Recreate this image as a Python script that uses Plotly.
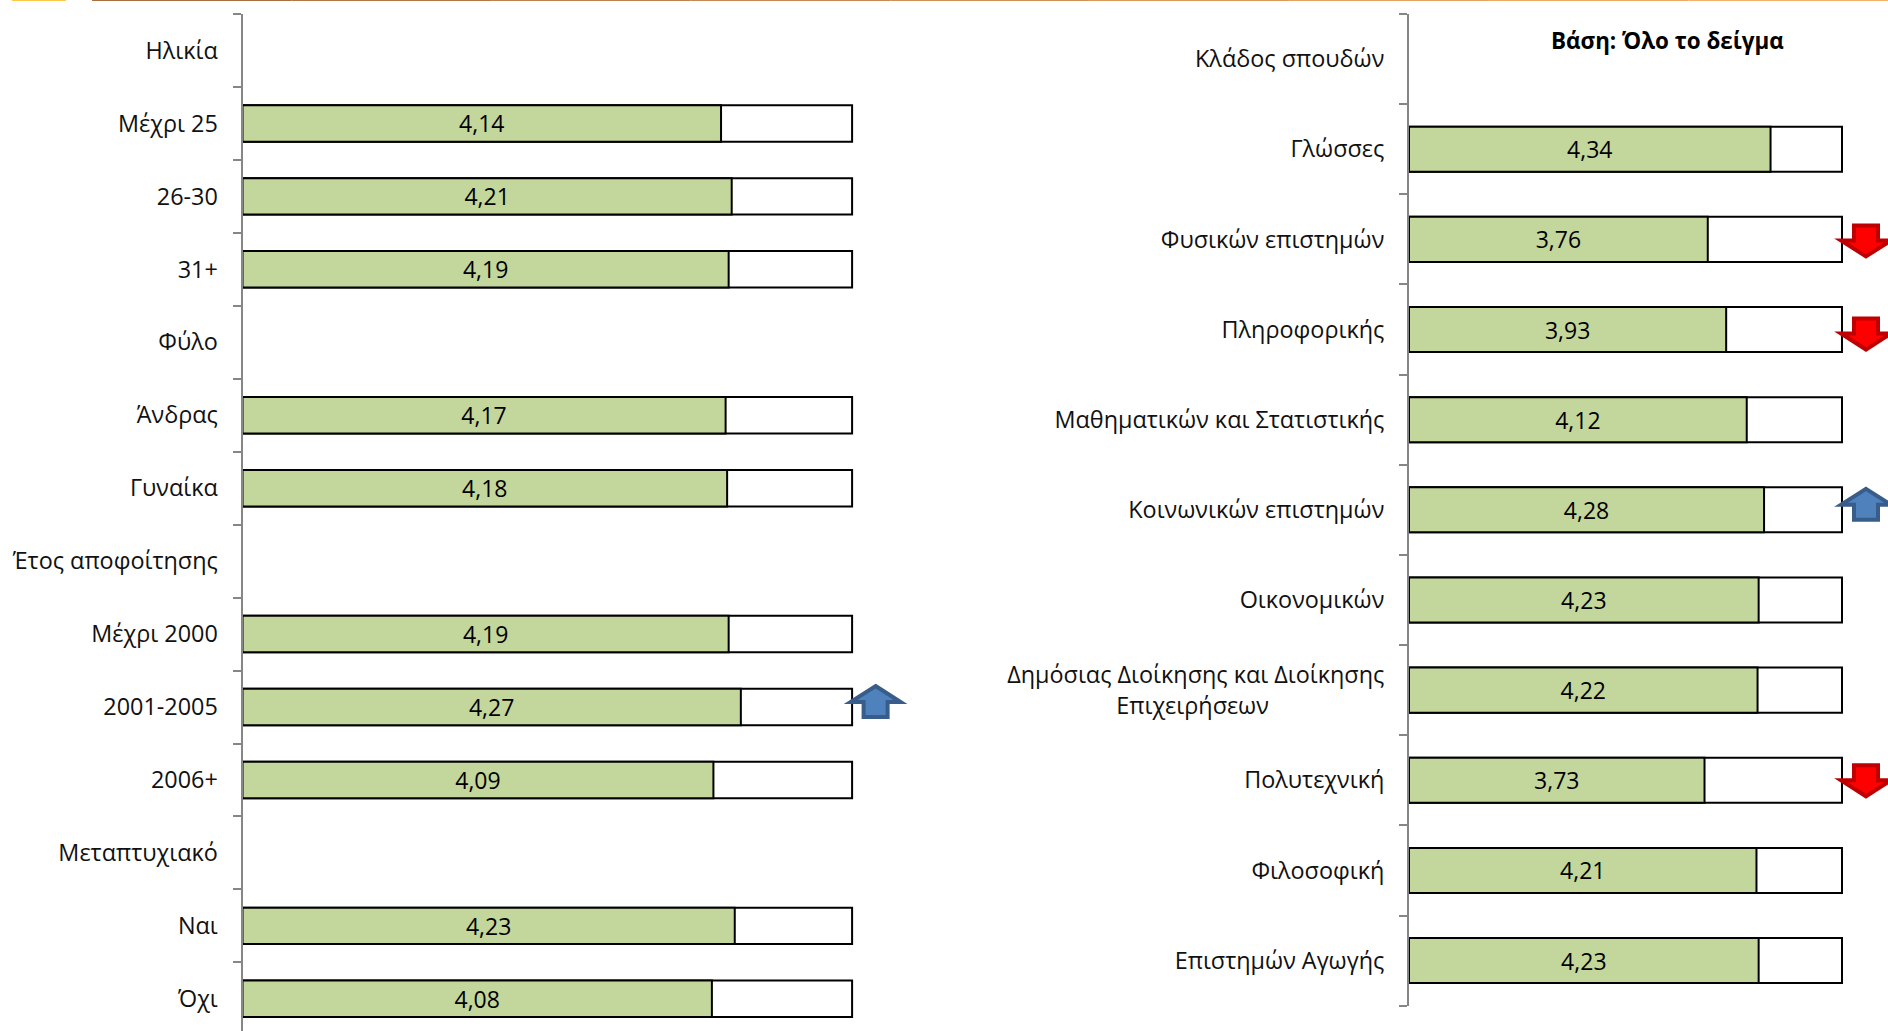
import plotly.graph_objects as go

# ---- data ----
left_labels = ["Ηλικία", "Μέχρι 25", "26-30", "31+", "Φύλο", "Άνδρας", "Γυναίκα",
               "Έτος αποφοίτησης", "Μέχρι 2000", "2001-2005", "2006+",
               "Μεταπτυχιακό", "Ναι", "Όχι"]
left_values = [None, 4.14, 4.21, 4.19, None, 4.17, 4.18,
               None, 4.19, 4.27, 4.09, None, 4.23, 4.08]
left_flags = [None, None, None, None, None, None, None,
              None, None, "up", None, None, None, None]

right_labels = ["Κλάδος σπουδών", "Γλώσσες", "Φυσικών επιστημών", "Πληροφορικής",
                "Μαθηματικών και Στατιστικής", "Κοινωνικών επιστημών", "Οικονομικών",
                "Δημόσιας Διοίκησης και Διοίκησης<br>Επιχειρήσεων", "Πολυτεχνική",
                "Φιλοσοφική", "Επιστημών Αγωγής"]
right_values = [None, 4.34, 3.76, 3.93, 4.12, 4.28, 4.23, 4.22, 3.73, 4.21, 4.23]
right_flags = [None, None, "down", "down", None, "up", None, None, "down", None, None]

scale_min, scale_max = 1, 5
base_note = "Βάση: Όλο το δείγμα"

# ---- style ----
W, H = 1888, 1031
FONT = "Open Sans"
GREEN, BLACK, AXIS = "#C3D69B", "#000000", "#868686"
LABEL_SIZE, VALUE_SIZE, NOTE_SIZE = 23.4, 23, 22.4
STYLE = {"up": ("#4F81BD", "#385D8A"), "down": ("#FF0000", "#C00000")}


def add_panel(fig, n, labels, values, x0, x_end, unit, row_top, row_h):
    ax = "" if n == 1 else str(n)
    top_value = scale_min + (x_end - x0) / unit
    has_bar = [v is not None for v in values]
    fig.add_trace(go.Bar(y=labels, x=[scale_max - scale_min if b else None for b in has_bar],
                         base=scale_min, orientation="h", width=0.5,
                         marker=dict(color="white", line=dict(color=BLACK, width=2)),
                         xaxis="x" + ax, yaxis="y" + ax, hoverinfo="skip"))
    fig.add_trace(go.Bar(y=labels, x=[None if v is None else v - scale_min for v in values],
                         base=scale_min, orientation="h", width=0.5,
                         marker=dict(color=GREEN, line=dict(color=BLACK, width=2)),
                         text=[None if v is None else f"{v:.2f}".replace(".", ",") for v in values],
                         textposition="inside", insidetextanchor="middle",
                         textangle=0, constraintext="none",
                         textfont=dict(family=FONT, size=VALUE_SIZE, color=BLACK),
                         xaxis="x" + ax, yaxis="y" + ax))
    bottom = min(H, row_top + row_h * len(labels))
    visible_rows = (bottom - row_top) / row_h
    fig.update_layout({
        "xaxis" + ax: dict(domain=[x0 / W, x_end / W], range=[scale_min, top_value],
                           visible=False, anchor="y" + ax),
        "yaxis" + ax: dict(domain=[1 - bottom / H, 1 - row_top / H],
                           range=[visible_rows - 0.5, -0.5], type="category",
                           categoryorder="array", categoryarray=labels,
                           tickmode="array", tickvals=labels,
                           ticktext=[l + "\u00a0" * 19 if "<br>" in l else l for l in labels],
                           tickson="boundaries", ticks="outside", ticklen=8, tickwidth=1.5,
                           tickcolor=AXIS, showline=True, linecolor=AXIS, linewidth=2,
                           showgrid=False, zeroline=False, anchor="x" + ax,
                           ticklabelstandoff=18,
                           tickfont=dict(family=FONT, size=LABEL_SIZE, color="#111111")),
    })


def arrow_path(kind, dx, dy):
    # pixel offsets around the anchor (centre line of the outline); screen y is flipped
    hw, sw = 25, 12
    if kind == "up":
        pts = [(0, -21), (hw, -5), (sw, -5), (sw, 10), (-sw, 10), (-sw, -5), (-hw, -5)]
    else:
        pts = [(0, 17), (hw, 1), (sw, 1), (sw, -14), (-sw, -14), (-sw, 1), (-hw, 1)]
    return "M " + " L ".join(f"{x + dx},{-(y + dy)}" for x, y in pts) + " Z"


def add_arrows(fig, n, flags, dx, row_nudge):
    ax = "" if n == 1 else str(n)
    for i, flag in enumerate(flags):
        if not flag:
            continue
        fill, edge = STYLE[flag]
        fig.add_shape(type="path", xref="x" + ax, yref="y" + ax,
                      xsizemode="pixel", ysizemode="pixel",
                      xanchor=scale_max, yanchor=i,
                      path=arrow_path(flag, dx, row_nudge.get(i, 0)),
                      fillcolor=fill, line=dict(color=edge, width=4), layer="above")


fig = go.Figure()
add_panel(fig, 1, left_labels, left_values, 242.5, 920, 152.4, 14, 72.95)
add_panel(fig, 2, right_labels, right_values, 1409, 1888, 108.25, 14, 90.15)
add_arrows(fig, 1, left_flags, 23.5, {})
add_arrows(fig, 2, right_flags, 24, {3: 3, 8: -1})

fig.add_annotation(text="<b>" + base_note + "</b>", xref="paper", yref="paper",
                   x=1667 / W, y=1 - 41 / H, xanchor="center", yanchor="middle",
                   showarrow=False, font=dict(family=FONT, size=NOTE_SIZE, color=BLACK))

# decorative header rule at the very top of the slide
fig.add_shape(type="rect", xref="paper", yref="paper", x0=12 / W, x1=66 / W,
              y0=1 - 1 / H, y1=1, fillcolor="#FFC84A", line_width=0, layer="above")
rule_colors = ["#A97142", "#B27947", "#BC814C", "#C68951", "#D09156", "#DA995B", "#E4A160", "#EEA965", "#F5B06C"]
seg = (W - 92) / len(rule_colors)
for i, c in enumerate(rule_colors):
    fig.add_shape(type="rect", xref="paper", yref="paper", x0=(92 + i * seg) / W,
                  x1=(92 + (i + 1) * seg) / W, y0=1 - 1 / H, y1=1,
                  fillcolor=c, line_width=0, layer="above")

fig.update_layout(width=W, height=H, margin=dict(l=0, r=0, t=0, b=0),
                  barmode="overlay", showlegend=False, paper_bgcolor="white",
                  plot_bgcolor="rgba(0,0,0,0)", font=dict(family=FONT))
fig.write_html("out.html", config={"displayModeBar": False},
               post_script="document.body.style.margin='0';document.body.style.overflow='hidden';")
